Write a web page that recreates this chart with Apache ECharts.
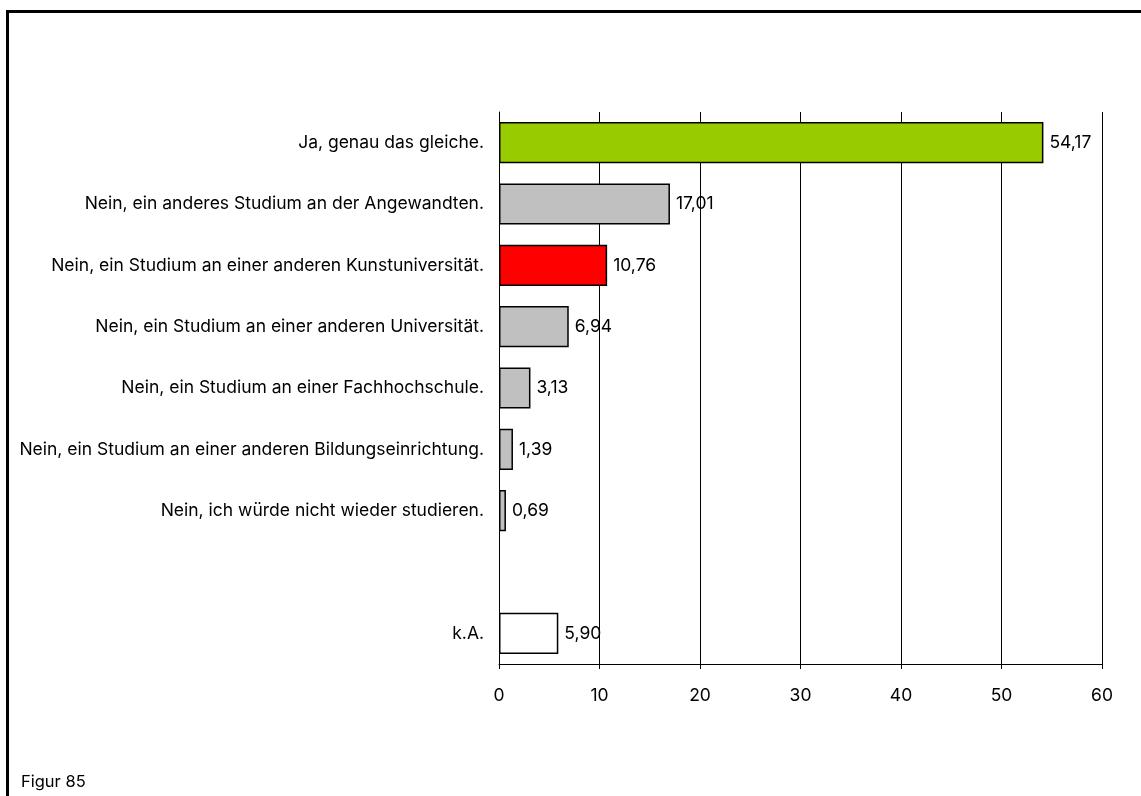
<!DOCTYPE html>
<html><head><meta charset="utf-8">
<script src="https://cdn.jsdelivr.net/npm/echarts@6/dist/echarts.min.js"></script>
<style>
html,body{margin:0;padding:0;background:#fff;}
#frame{position:absolute;left:6px;top:10px;width:1200px;height:900px;border-left:3px solid #000;border-top:3px solid #000;}
#c{position:absolute;left:0;top:0;width:1141px;height:796px;}
#fig{position:absolute;left:21px;top:771px;font-family:"Inter",sans-serif;font-size:16.5px;color:#000;}
</style></head>
<body>
<div id="frame"></div>
<div id="c"></div>
<div id="fig">Figur 85</div>
<script>
const categories = [
  "Ja, genau das gleiche.",
  "Nein, ein anderes Studium an der Angewandten.",
  "Nein, ein Studium an einer anderen Kunstuniversität.",
  "Nein, ein Studium an einer anderen Universität.",
  "Nein, ein Studium an einer Fachhochschule.",
  "Nein, ein Studium an einer anderen Bildungseinrichtung.",
  "Nein, ich würde nicht wieder studieren.",
  "",
  "k.A."
];
const values = [54.17, 17.01, 10.76, 6.94, 3.13, 1.39, 0.69, null, 5.90];
const barColors = ["#99cc00", "#c0c0c0", "#ff0000", "#c0c0c0", "#c0c0c0", "#c0c0c0", "#c0c0c0", "#ffffff", "#ffffff"];
const xTicks = [0, 10, 20, 30, 40, 50, 60];

const FONT = 'Inter';
const FS = 17.5;
const chart = echarts.init(document.getElementById('c'));
chart.setOption({
  animation: false,
  grid: {left: 499, right: 39, top: 112, bottom: 132},
  xAxis: {
    type: 'value', min: xTicks[0], max: xTicks[xTicks.length-1], interval: 10,
    axisLine: {show: true, lineStyle: {color: '#000', width: 1}},
    axisTick: {show: true, length: 5, lineStyle: {color: '#000'}},
    axisLabel: {color: '#000', fontFamily: FONT, fontSize: FS, margin: 23},
    splitLine: {show: true, lineStyle: {color: '#000', width: 1}}
  },
  yAxis: {
    type: 'category', data: categories, inverse: true,
    axisLine: {show: true, lineStyle: {color: '#000', width: 1}},
    axisTick: {show: false},
    axisLabel: {color: '#000', fontFamily: FONT, fontSize: FS, margin: 15}
  },
  series: [{
    type: 'bar',
    barCategoryGap: '33%',
    data: values.map((v, i) => ({value: v, itemStyle: {color: barColors[i], borderColor: '#000', borderWidth: 1.5}})),
    label: {
      show: true, position: 'right', distance: 6,
      color: '#000', fontFamily: FONT, fontSize: FS,
      formatter: p => p.value == null ? '' : p.value.toFixed(2).replace('.', ',')
    }
  }]
});
</script>
</body></html>
